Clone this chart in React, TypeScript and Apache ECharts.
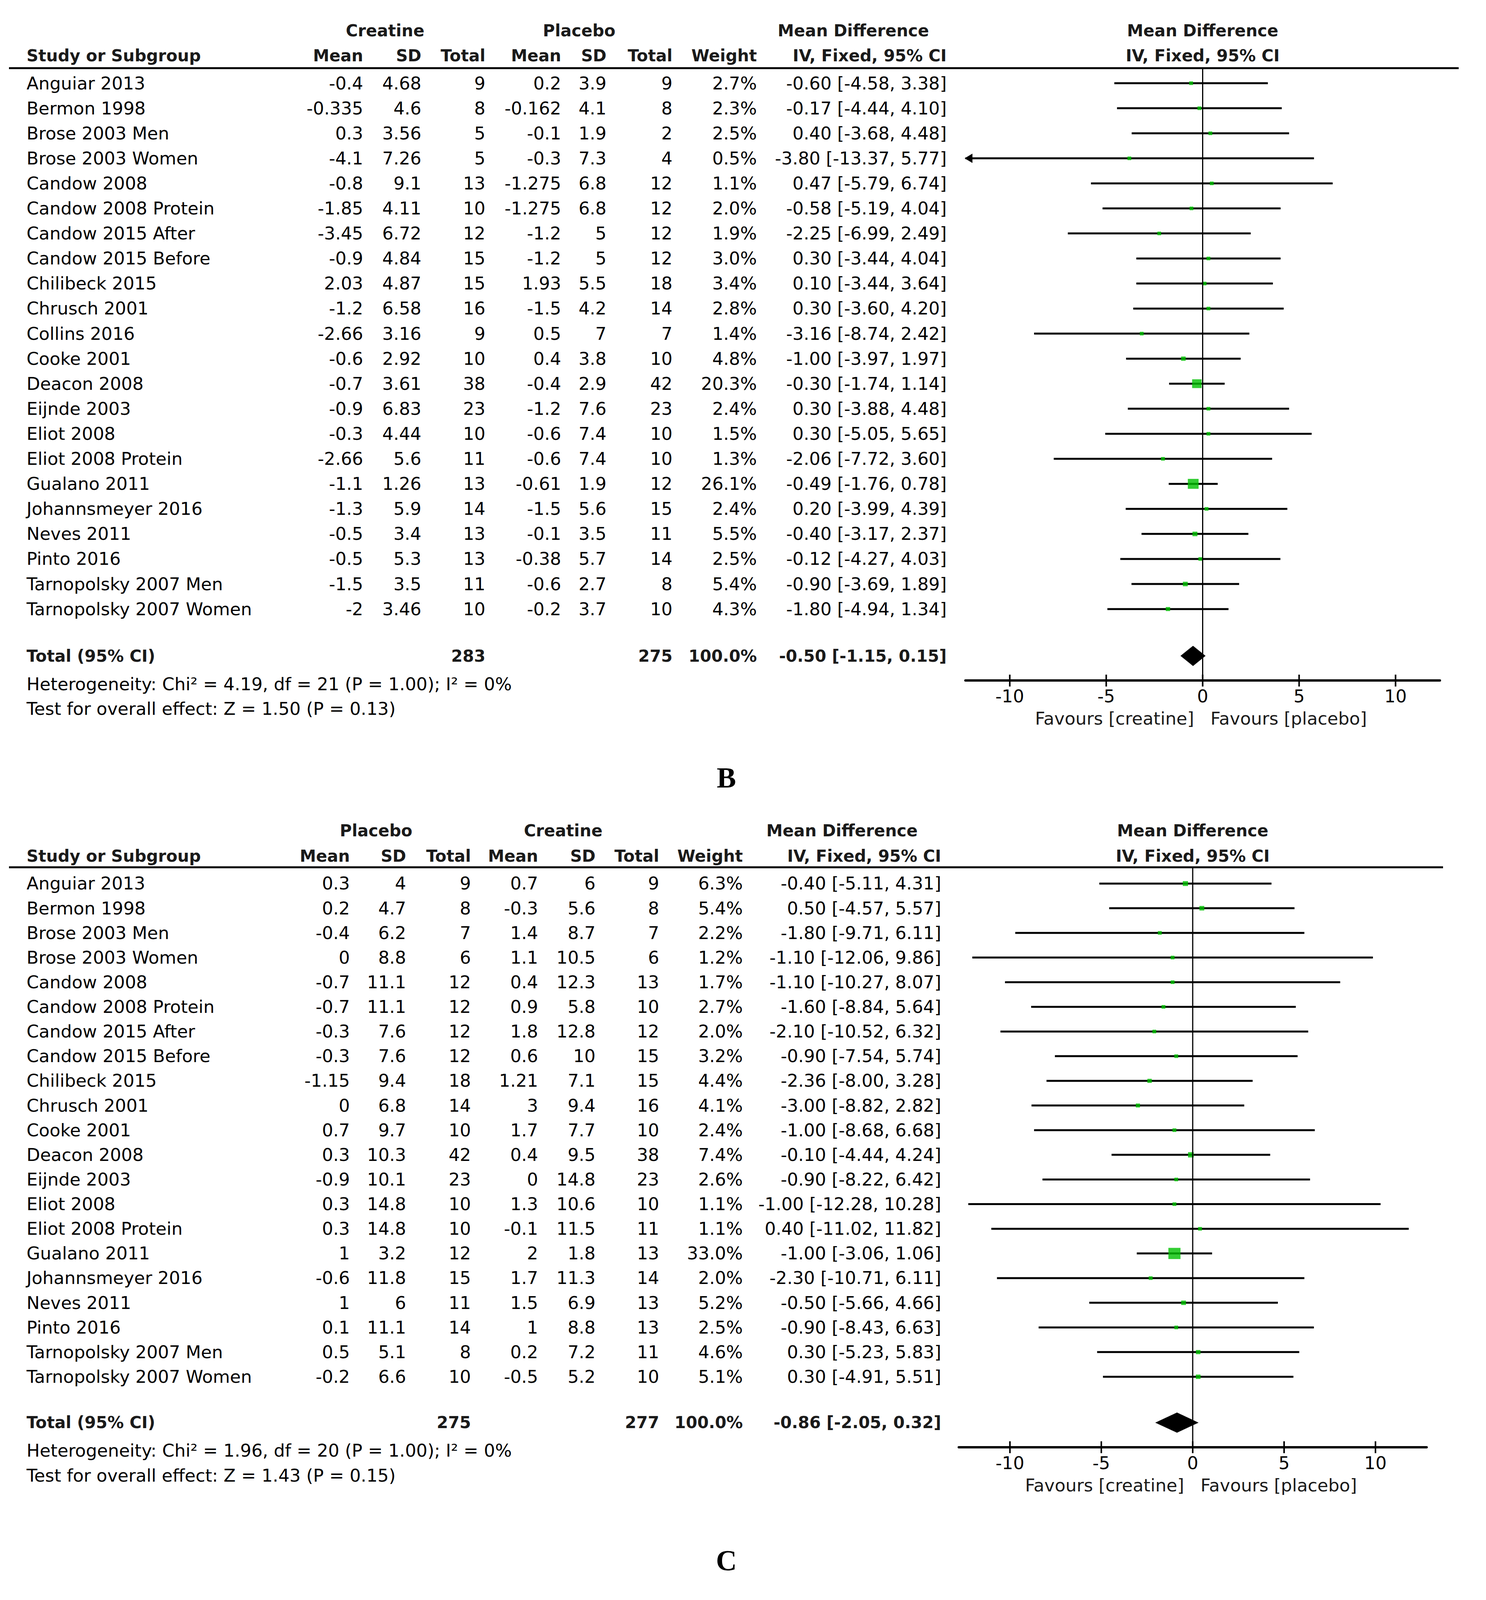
import React, { useEffect, useRef } from "react";
import * as echarts from "echarts";

// ---------------- Panel B data ----------------
const studiesB = [
  "Anguiar 2013", "Bermon 1998", "Brose 2003 Men", "Brose 2003 Women", "Candow 2008",
  "Candow 2008 Protein", "Candow 2015 After", "Candow 2015 Before", "Chilibeck 2015",
  "Chrusch 2001", "Collins 2016", "Cooke 2001", "Deacon 2008", "Eijnde 2003", "Eliot 2008",
  "Eliot 2008 Protein", "Gualano 2011", "Johannsmeyer 2016", "Neves 2011", "Pinto 2016",
  "Tarnopolsky 2007 Men", "Tarnopolsky 2007 Women",
];
const creatineMeanB = ["-0.4", "-0.335", "0.3", "-4.1", "-0.8", "-1.85", "-3.45", "-0.9", "2.03", "-1.2", "-2.66", "-0.6", "-0.7", "-0.9", "-0.3", "-2.66", "-1.1", "-1.3", "-0.5", "-0.5", "-1.5", "-2"];
const creatineSDB = ["4.68", "4.6", "3.56", "7.26", "9.1", "4.11", "6.72", "4.84", "4.87", "6.58", "3.16", "2.92", "3.61", "6.83", "4.44", "5.6", "1.26", "5.9", "3.4", "5.3", "3.5", "3.46"];
const creatineNB = [9, 8, 5, 5, 13, 10, 12, 15, 15, 16, 9, 10, 38, 23, 10, 11, 13, 14, 13, 13, 11, 10];
const placeboMeanB = ["0.2", "-0.162", "-0.1", "-0.3", "-1.275", "-1.275", "-1.2", "-1.2", "1.93", "-1.5", "0.5", "0.4", "-0.4", "-1.2", "-0.6", "-0.6", "-0.61", "-1.5", "-0.1", "-0.38", "-0.6", "-0.2"];
const placeboSDB = ["3.9", "4.1", "1.9", "7.3", "6.8", "6.8", "5", "5", "5.5", "4.2", "7", "3.8", "2.9", "7.6", "7.4", "7.4", "1.9", "5.6", "3.5", "5.7", "2.7", "3.7"];
const placeboNB = [9, 8, 2, 4, 12, 12, 12, 12, 18, 14, 7, 10, 42, 23, 10, 10, 12, 15, 11, 14, 8, 10];
const weightB = [2.7, 2.3, 2.5, 0.5, 1.1, 2.0, 1.9, 3.0, 3.4, 2.8, 1.4, 4.8, 20.3, 2.4, 1.5, 1.3, 26.1, 2.4, 5.5, 2.5, 5.4, 4.3];
const mdB = [-0.6, -0.17, 0.4, -3.8, 0.47, -0.58, -2.25, 0.3, 0.1, 0.3, -3.16, -1.0, -0.3, 0.3, 0.3, -2.06, -0.49, 0.2, -0.4, -0.12, -0.9, -1.8];
const loB = [-4.58, -4.44, -3.68, -13.37, -5.79, -5.19, -6.99, -3.44, -3.44, -3.6, -8.74, -3.97, -1.74, -3.88, -5.05, -7.72, -1.76, -3.99, -3.17, -4.27, -3.69, -4.94];
const hiB = [3.38, 4.1, 4.48, 5.77, 6.74, 4.04, 2.49, 4.04, 3.64, 4.2, 2.42, 1.97, 1.14, 4.48, 5.65, 3.6, 0.78, 4.39, 2.37, 4.03, 1.89, 1.34];
const totalNB = ["283", "275"];
const totalB = [-0.5, -1.15, 0.15];
const heteroB = "Heterogeneity: Chi\u00b2 = 4.19, df = 21 (P = 1.00); I\u00b2 = 0%";
const testB = "Test for overall effect: Z = 1.50 (P = 0.13)";

// ---------------- Panel C data ----------------
const studiesC = [
  "Anguiar 2013", "Bermon 1998", "Brose 2003 Men", "Brose 2003 Women", "Candow 2008",
  "Candow 2008 Protein", "Candow 2015 After", "Candow 2015 Before", "Chilibeck 2015",
  "Chrusch 2001", "Cooke 2001", "Deacon 2008", "Eijnde 2003", "Eliot 2008",
  "Eliot 2008 Protein", "Gualano 2011", "Johannsmeyer 2016", "Neves 2011", "Pinto 2016",
  "Tarnopolsky 2007 Men", "Tarnopolsky 2007 Women",
];
const placeboMeanC = ["0.3", "0.2", "-0.4", "0", "-0.7", "-0.7", "-0.3", "-0.3", "-1.15", "0", "0.7", "0.3", "-0.9", "0.3", "0.3", "1", "-0.6", "1", "0.1", "0.5", "-0.2"];
const placeboSDC = ["4", "4.7", "6.2", "8.8", "11.1", "11.1", "7.6", "7.6", "9.4", "6.8", "9.7", "10.3", "10.1", "14.8", "14.8", "3.2", "11.8", "6", "11.1", "5.1", "6.6"];
const placeboNC = [9, 8, 7, 6, 12, 12, 12, 12, 18, 14, 10, 42, 23, 10, 10, 12, 15, 11, 14, 8, 10];
const creatineMeanC = ["0.7", "-0.3", "1.4", "1.1", "0.4", "0.9", "1.8", "0.6", "1.21", "3", "1.7", "0.4", "0", "1.3", "-0.1", "2", "1.7", "1.5", "1", "0.2", "-0.5"];
const creatineSDC = ["6", "5.6", "8.7", "10.5", "12.3", "5.8", "12.8", "10", "7.1", "9.4", "7.7", "9.5", "14.8", "10.6", "11.5", "1.8", "11.3", "6.9", "8.8", "7.2", "5.2"];
const creatineNC = [9, 8, 7, 6, 13, 10, 12, 15, 15, 16, 10, 38, 23, 10, 11, 13, 14, 13, 13, 11, 10];
const weightC = [6.3, 5.4, 2.2, 1.2, 1.7, 2.7, 2.0, 3.2, 4.4, 4.1, 2.4, 7.4, 2.6, 1.1, 1.1, 33.0, 2.0, 5.2, 2.5, 4.6, 5.1];
const mdC = [-0.4, 0.5, -1.8, -1.1, -1.1, -1.6, -2.1, -0.9, -2.36, -3.0, -1.0, -0.1, -0.9, -1.0, 0.4, -1.0, -2.3, -0.5, -0.9, 0.3, 0.3];
const loC = [-5.11, -4.57, -9.71, -12.06, -10.27, -8.84, -10.52, -7.54, -8.0, -8.82, -8.68, -4.44, -8.22, -12.28, -11.02, -3.06, -10.71, -5.66, -8.43, -5.23, -4.91];
const hiC = [4.31, 5.57, 6.11, 9.86, 8.07, 5.64, 6.32, 5.74, 3.28, 2.82, 6.68, 4.24, 6.42, 10.28, 11.82, 1.06, 6.11, 4.66, 6.63, 5.83, 5.51];
const totalNC = ["275", "277"];
const totalC = [-0.86, -2.05, 0.32];
const heteroC = "Heterogeneity: Chi\u00b2 = 1.96, df = 20 (P = 1.00); I\u00b2 = 0%";
const testC = "Test for overall effect: Z = 1.43 (P = 0.15)";

const tickValues = [-10, -5, 0, 5, 10];
const subHeaders = ["Mean", "SD", "Total", "Mean", "SD", "Total", "Weight", "IV, Fixed, 95% CI"];
const favoursLeft = "Favours [creatine]";
const favoursRight = "Favours [placebo]";
const panelLetters = ["B", "C"];

// ---------------- styling / layout ----------------
const FONT = "'DejaVu Sans', sans-serif";
const GREEN = "#00c000";
const INK = "#000";
const HEAD_INK = "#1a1a1a";
const REF_W = 3805;
const REF_H = 4435;
const NAME_X = 68;

const panels = [
  {
    studies: studiesB,
    cols: [creatineMeanB, creatineSDB, creatineNB, placeboMeanB, placeboSDB, placeboNB],
    weights: weightB, md: mdB, lo: loB, hi: hiB,
    totalN: totalNB, total: totalB, hetero: heteroB, test: testB,
    groups: [["Creatine", 986], ["Placebo", 1483], ["Mean Difference", 2185]],
    colX: [930, 1079, 1243, 1437, 1553, 1722, 1938, 2424],
    grid: { left: 2472, top: 189, width: 1215, height: 1697 },
    xRange: [-12.3, 12.3], yRange: [-0.6, 23.85],
    head1: -2.1, head2: -1.1, totalRow: 22.87, heteroRow: 24.0, testRow: 24.99,
    lineRight: 3735, letterY: 2156,
  },
  {
    studies: studiesC,
    cols: [placeboMeanC, placeboSDC, placeboNC, creatineMeanC, creatineSDC, creatineNC],
    weights: weightC, md: mdC, lo: loC, hi: hiC,
    totalN: totalNC, total: totalC, hetero: heteroC, test: testC,
    groups: [["Placebo", 963], ["Creatine", 1442], ["Mean Difference", 2156]],
    colX: [896, 1040, 1206, 1378, 1525, 1688, 1902, 2410],
    grid: { left: 2455, top: 2404, width: 1198, height: 1607 },
    xRange: [-12.8, 12.8], yRange: [-0.66, 22.85],
    head1: -2.14, head2: -1.11, totalRow: 21.86, heteroRow: 23.0, testRow: 24.0,
    lineRight: 3695, letterY: 4326,
  },
];

function fmtCI(m: number, l: number, h: number) {
  return `${m.toFixed(2)} [${l.toFixed(2)}, ${h.toFixed(2)}]`;
}

function buildOption(SY: number) {
  const BODY = 45;
  const HEAD = 42;

  const txt = (text: string, x: number, y: number, align: string, bold = false, size = BODY, fill = INK) => ({
    type: "text",
    x, y,
    style: {
      text, fill, fontSize: size, fontFamily: FONT,
      fontWeight: bold ? "bold" : "normal",
      align, verticalAlign: "middle",
    },
  });

  const boxSize = (w: number) => Math.max(10, 5.4 * Math.sqrt(w));

  const buildSeries = (p: any, k: number) => {
    const axes = { xAxisIndex: k, yAxisIndex: k };
    const series: any[] = [];

    // table rows
    series.push({
      type: "custom", ...axes, clip: false, silent: true, z: 1,
      data: p.studies.map((_: string, i: number) => [0, i]),
      renderItem: (params: any, api: any) => {
        const i = params.dataIndex;
        const y = api.coord([0, i])[1];
        const children: any[] = [txt(p.studies[i], NAME_X, y, "left")];
        p.cols.forEach((col: any[], c: number) => {
          children.push(txt(String(col[i]), p.colX[c], y, "right"));
        });
        children.push(txt(p.weights[i].toFixed(1) + "%", p.colX[6], y, "right"));
        children.push(txt(fmtCI(p.md[i], p.lo[i], p.hi[i]), p.colX[7], y, "right"));
        return { type: "group", children };
      },
    });

    // CI lines
    series.push({
      type: "custom", ...axes, clip: false, silent: true, z: 2,
      data: p.md.map((m: number, i: number) => [m, i]),
      renderItem: (params: any, api: any) => {
        const i = params.dataIndex;
        const l = Math.max(p.lo[i], p.xRange[0]);
        const h = Math.min(p.hi[i], p.xRange[1]);
        const a = api.coord([l, i]);
        const b = api.coord([h, i]);
        const ah = 13 * SY;
        const children: any[] = [
          { type: "line", shape: { x1: a[0], y1: a[1], x2: b[0], y2: b[1] }, style: { stroke: INK, lineWidth: 5 } },
        ];
        if (p.lo[i] < p.xRange[0]) {
          children.push({
            type: "polygon",
            shape: { points: [[a[0] - 2, a[1]], [a[0] + 18, a[1] - ah], [a[0] + 18, a[1] + ah]] },
            style: { fill: INK },
          });
        }
        if (p.hi[i] > p.xRange[1]) {
          children.push({
            type: "polygon",
            shape: { points: [[b[0] + 2, b[1]], [b[0] - 18, b[1] - ah], [b[0] - 18, b[1] + ah]] },
            style: { fill: INK },
          });
        }
        return { type: "group", children };
      },
    });

    // boxes
    series.push({
      type: "scatter", ...axes, silent: true, z: 3,
      symbol: "rect",
      symbolSize: (_v: any, prm: any) => {
        const s = boxSize(p.weights[prm.dataIndex]);
        return [s, s * SY];
      },
      itemStyle: { color: GREEN },
      data: p.md.map((m: number, i: number) => [m, i]),
    });

    // headers, separator, zero line, totals, footer
    series.push({
      type: "custom", ...axes, clip: false, silent: true, z: 4,
      data: [[0, 0]],
      renderItem: (_params: any, api: any) => {
        const yTop = api.coord([0, p.yRange[0]])[1];
        const yBot = api.coord([0, p.yRange[1]])[1];
        const zeroX = api.coord([0, 0])[0];
        const h1 = api.coord([0, p.head1])[1];
        const h2 = api.coord([0, p.head2])[1];
        const tY = api.coord([0, p.totalRow])[1];
        const hetY = api.coord([0, p.heteroRow])[1];
        const testY = api.coord([0, p.testRow])[1];
        const children: any[] = [];
        children.push({ type: "line", shape: { x1: 23, y1: yTop, x2: p.lineRight, y2: yTop }, style: { stroke: INK, lineWidth: 5 } });
        children.push({ type: "line", shape: { x1: zeroX, y1: yTop, x2: zeroX, y2: yBot }, style: { stroke: INK, lineWidth: 3 } });
        p.groups.forEach((g: any) => children.push(txt(g[0], g[1], h1, "center", true, HEAD, HEAD_INK)));
        children.push(txt("Mean Difference", zeroX, h1, "center", true, HEAD, HEAD_INK));
        children.push(txt("Study or Subgroup", NAME_X, h2, "left", true, HEAD, HEAD_INK));
        subHeaders.forEach((s, c) => children.push(txt(s, p.colX[c], h2, "right", true, HEAD, HEAD_INK)));
        children.push(txt("IV, Fixed, 95% CI", zeroX, h2, "center", true, HEAD, HEAD_INK));
        children.push(txt("Total (95% CI)", NAME_X, tY, "left", true, HEAD, HEAD_INK));
        children.push(txt(p.totalN[0], p.colX[2], tY, "right", true, HEAD, HEAD_INK));
        children.push(txt(p.totalN[1], p.colX[5], tY, "right", true, HEAD, HEAD_INK));
        children.push(txt("100.0%", p.colX[6], tY, "right", true, HEAD, HEAD_INK));
        children.push(txt(fmtCI(p.total[0], p.total[1], p.total[2]), p.colX[7], tY, "right", true, HEAD, HEAD_INK));
        children.push(txt(p.hetero, NAME_X, hetY, "left"));
        children.push(txt(p.test, NAME_X, testY, "left"));
        const dl = api.coord([p.total[1], p.totalRow]);
        const dm = api.coord([p.total[0], p.totalRow]);
        const dh = api.coord([p.total[2], p.totalRow]);
        const dd = 28 * SY;
        children.push({
          type: "polygon",
          shape: { points: [[dl[0], dl[1]], [dm[0], dm[1] - dd], [dh[0], dh[1]], [dm[0], dm[1] + dd]] },
          style: { fill: INK },
        });
        children.push(txt(favoursLeft, zeroX - 22, yBot + 106 * SY, "right", false, BODY, HEAD_INK));
        children.push(txt(favoursRight, zeroX + 20, yBot + 106 * SY, "left", false, BODY, HEAD_INK));
        return { type: "group", children };
      },
    });

    // ticks + tick labels
    series.push({
      type: "custom", ...axes, clip: false, silent: true, z: 5,
      data: tickValues.map((v) => [v, p.yRange[1]]),
      renderItem: (params: any, api: any) => {
        const v = tickValues[params.dataIndex];
        const c = api.coord([v, p.yRange[1]]);
        return {
          type: "group",
          children: [
            { type: "line", shape: { x1: c[0], y1: c[1] - 16 * SY, x2: c[0], y2: c[1] + 17 * SY }, style: { stroke: INK, lineWidth: 4 } },
            txt(String(v), c[0], c[1] + 44 * SY, "center"),
          ],
        };
      },
    });

    return series;
  };

  return {
    animation: false,
    backgroundColor: "#ffffff",
    grid: panels.map((p) => ({
      left: p.grid.left, width: p.grid.width,
      top: p.grid.top * SY, height: p.grid.height * SY, containLabel: false,
    })),
    xAxis: panels.map((p, k) => ({
      gridIndex: k, type: "value", min: p.xRange[0], max: p.xRange[1],
      axisLine: { show: true, onZero: false, lineStyle: { color: INK, width: 6 } },
      axisTick: { show: false }, axisLabel: { show: false }, splitLine: { show: false },
    })),
    yAxis: panels.map((p, k) => ({
      gridIndex: k, type: "value", inverse: true, min: p.yRange[0], max: p.yRange[1], show: false,
      splitLine: { show: false },
    })),
    series: panels.flatMap((p, k) => buildSeries(p, k)),
    graphic: panels.map((p, k) => ({
      type: "text", x: 1860, y: p.letterY * SY,
      style: {
        text: panelLetters[k], fill: INK, fontSize: 74, fontWeight: "bold",
        fontFamily: "'Liberation Serif', 'Times New Roman', serif",
        align: "center", verticalAlign: "middle",
      },
    })),
  };
}

export default function App() {
  const ref = useRef<HTMLDivElement>(null);
  const viewH = typeof window !== "undefined" && window.innerHeight > 0 ? Math.min(REF_H, window.innerHeight) : REF_H;
  useEffect(() => {
    if (!ref.current) return;
    const chart = echarts.init(ref.current, undefined, { renderer: "svg" });
    chart.setOption(buildOption(viewH / REF_H));
    return () => chart.dispose();
  }, []);
  return (
    <div
      ref={ref}
      style={{ position: "absolute", left: 0, top: 0, width: REF_W, height: viewH, background: "#fff" }}
    />
  );
}
